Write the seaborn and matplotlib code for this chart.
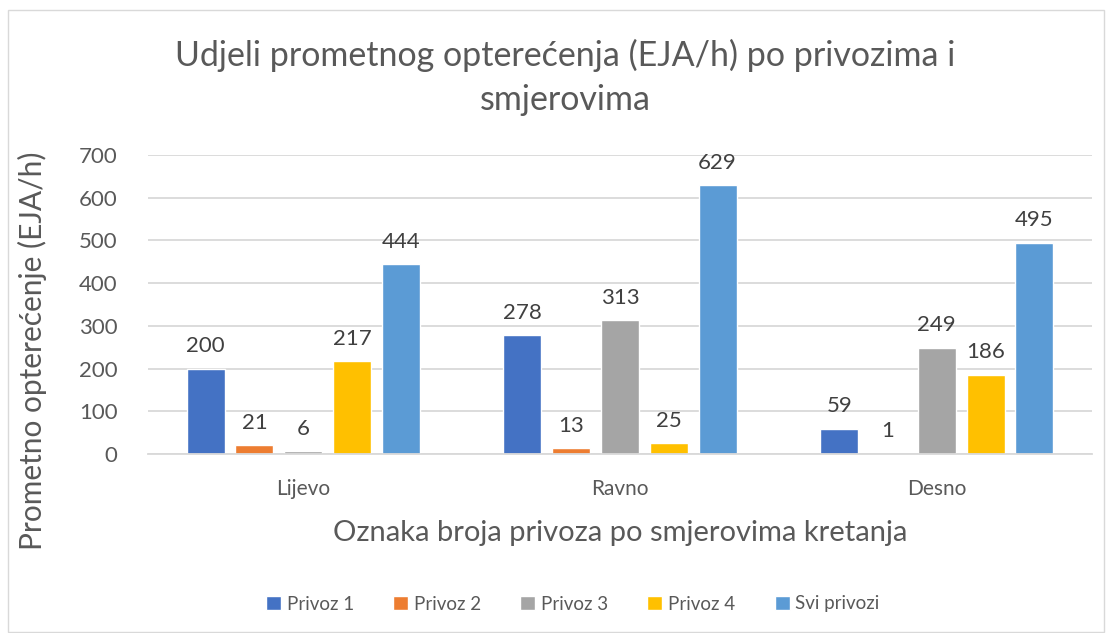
import pandas as pd
import seaborn as sns
import matplotlib.pyplot as plt
from matplotlib.patches import Rectangle

smjerovi = ['Lijevo', 'Ravno', 'Desno']
privozi = ['Privoz 1', 'Privoz 2', 'Privoz 3', 'Privoz 4', 'Svi privozi']
privoz1 = [200, 278, 59]
privoz2 = [21, 13, 1]
privoz3 = [6, 313, 249]
privoz4 = [217, 25, 186]
svi = [444, 629, 495]
boje = ['#4472C4', '#ED7D31', '#A5A5A5', '#FFC000', '#5B9BD5']

rows = []
for name, vals in zip(privozi, [privoz1, privoz2, privoz3, privoz4, svi]):
    for s, v in zip(smjerovi, vals):
        rows.append([s, name, v])
df = pd.DataFrame(rows, columns=['Smjer', 'Privoz', 'EJA'])

sns.set_theme(style='white')
plt.rcParams['font.family'] = ['Lato', 'DejaVu Sans']
txt = '#595959'

fig = plt.figure(figsize=(11.12, 6.33), dpi=100)
ax = fig.add_axes([148 / 1112, 1 - 454 / 633, (1092 - 148) / 1112, (454 - 155) / 633])
sns.barplot(data=df, x='Smjer', y='EJA', hue='Privoz', palette=boje,
            width=0.77, gap=0.22, ax=ax, legend=True, saturation=1)

ax.set_ylim(0, 700)
ax.set_xlim(-0.49, 2.49)
ax.set_yticks(range(0, 701, 100))
ax.yaxis.grid(True, color='#D9D9D9', lw=1.3)
ax.set_axisbelow(True)
for sp in ['top', 'right', 'left']:
    ax.spines[sp].set_visible(False)
ax.spines['bottom'].set_color('#D9D9D9')
ax.spines['bottom'].set_linewidth(1.3)
ax.tick_params(axis='y', length=0, labelsize=16, colors=txt, pad=22)
ax.tick_params(axis='x', length=0, labelsize=15, colors=txt, pad=18)

for c in ax.containers:
    ax.bar_label(c, fmt='%d', padding=9, fontsize=16, color='#404040')

ax.set_xlabel('Oznaka broja privoza po smjerovima kretanja', fontsize=21,
              color=txt, labelpad=15)
ax.set_ylabel('Prometno opterećenje (EJA/h)', fontsize=21.5, color=txt)
ax.yaxis.set_label_coords(-0.107, 0.345)

fig.text(0.508, 1 - 116 / 633, 'Udjeli prometnog opterećenja (EJA/h) po privozima i\nsmjerovima',
         ha='center', va='bottom', fontsize=24.5, color=txt, linespacing=1.45)

h, l = ax.get_legend_handles_labels()
ax.get_legend().remove()
fig.legend(h, l, loc='center', bbox_to_anchor=(0.515, 1 - 604 / 633), ncol=5,
           frameon=False, fontsize=13.5, handlelength=0.8, handleheight=0.8,
           handletextpad=0.3, columnspacing=2.1, labelcolor=txt)

fig.patches.append(Rectangle((8 / 1112, 0.002), 1096 / 1112, 1 - 10 / 633 - 0.002,
                             transform=fig.transFigure, fill=False,
                             edgecolor='#D9D9D9', lw=1))

fig.savefig('out.png', dpi=100)
